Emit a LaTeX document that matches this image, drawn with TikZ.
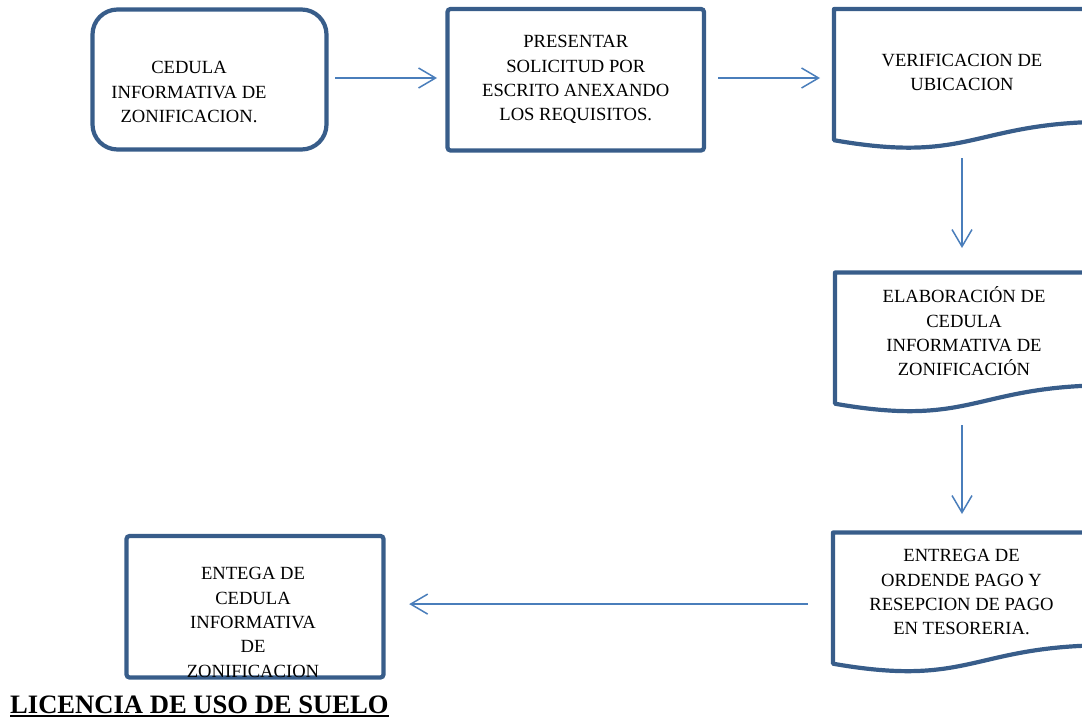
\documentclass[tikz,border=0pt]{standalone}
\usepackage{fontspec}
\setmainfont{Liberation Serif}
\usetikzlibrary{arrows.meta}
\definecolor{boxblue}{HTML}{385D8A}
\definecolor{arrowblue}{HTML}{4A7EBB}

\begin{document}
\begin{tikzpicture}[x=1pt,y=-1pt,
  box/.style={draw=boxblue, line width=4.2pt, inner sep=0},
  docbox/.style={inner sep=0, outer sep=0, minimum width=277pt, minimum height=131.2pt},
  docline/.style={draw=boxblue, line width=4.2pt, line join=round},
  txt/.style={align=center, inner sep=0, font=\fontsize{18.6}{24.3}\selectfont},
  flow/.style={draw=arrowblue, line width=1.5pt, -{Straight Barb[length=17pt,width=20pt]}}]
  \useasboundingbox (0,0) rectangle (1082,717);
  \clip (0,0) rectangle (1082,717);

  \node[box, rounded corners=25pt, minimum width=234pt, minimum height=140pt] (ced) at (209.5,79.5) {};
  \node[txt] (ced-t) at (189,92.2) {CEDULA\\INFORMATIVA DE\\ZONIFICACION.};
  \node[box, txt, rounded corners=3pt, minimum width=256.5pt, minimum height=141.5pt] (pres) at (575.75,79.75) {PRESENTAR\\SOLICITUD POR\\ESCRITO ANEXANDO\\LOS REQUISITOS.};

  \node[docbox, anchor=north west] (verif) at (834,9) {};
  \draw[docline] (verif.north east) ++(0,112.7) .. controls +(-138.5,0) and +(138.5,24.3) .. (verif.south west) -- (verif.north west) -- (verif.north east) -- cycle;
  \node[txt] (verif-t) at (962,72.7) {VERIFICACION DE\\UBICACION};

  \node[docbox, anchor=north west] (elab) at (835,272.5) {};
  \draw[docline] (elab.north east) ++(0,112.7) .. controls +(-138.5,0) and +(138.5,24.3) .. (elab.south west) -- (elab.north west) -- (elab.north east) -- cycle;
  \node[txt] (elab-t) at (964,331.5) {ELABORACIÓN DE\\CEDULA\\INFORMATIVA DE\\ZONIFICACIÓN};

  \node[docbox, anchor=north west] (entpago) at (833,532.5) {};
  \draw[docline] (entpago.north east) ++(0,112.7) .. controls +(-138.5,0) and +(138.5,24.3) .. (entpago.south west) -- (entpago.north west) -- (entpago.north east) -- cycle;
  \node[txt] (entpago-t) at (961.5,592.3) {ENTREGA DE\\ORDENDE PAGO Y\\RESEPCION DE PAGO\\EN TESORERIA.};

  \node[box, rounded corners=3pt, minimum width=257pt, minimum height=141.5pt] (entega) at (255,606.75) {};
  \node[txt] (entega-t) at (253,622.5) {ENTEGA DE\\CEDULA\\INFORMATIVA\\DE\\ZONIFICACION};

  \draw[flow, shorten <=6.4pt, shorten >=8.4pt] ([yshift=1.5pt]ced.east) -- ([yshift=1.5pt]ced.east -| pres.west);
  \draw[flow, shorten <=12pt, shorten >=14pt] ([yshift=1.75pt]pres.east) -- ([yshift=1.75pt]pres.east -| verif.west);
  \draw[flow, shorten <=17.8pt, shorten >=24.5pt] (verif-t |- verif.south) -- (verif-t |- elab.north);
  \draw[flow, shorten <=21.3pt, shorten >=18.5pt] (verif-t |- elab.south) -- (verif-t |- entpago.north);
  \draw[flow, shorten <=25pt, shorten >=23.6pt] ([yshift=-6pt]entpago.west) -- ([yshift=-6pt]entpago.west -| entega.east);

  \node[inner sep=0, anchor=base west, font=\fontsize{26.6}{30}\selectfont\bfseries] (title) at (10,713) {LICENCIA DE USO DE SUELO};
  \draw[line width=1.8pt] ([yshift=-2.6pt]title.base west) -- ([yshift=-2.6pt]title.base east);
\end{tikzpicture}
\end{document}
